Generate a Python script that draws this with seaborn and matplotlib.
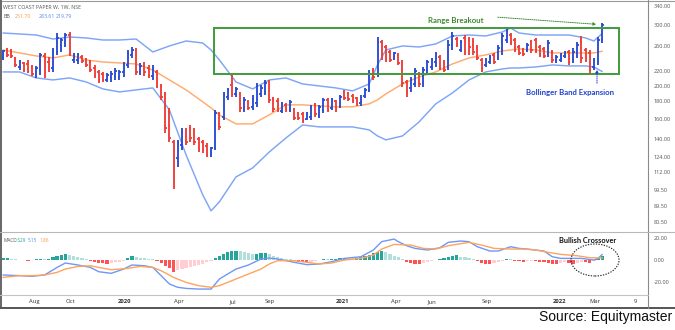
import numpy as np
import pandas as pd
import matplotlib
matplotlib.use("Agg")
import matplotlib.pyplot as plt
import matplotlib.dates as mdates
from matplotlib.patches import Rectangle, Ellipse, FancyArrowPatch
from matplotlib.lines import Line2D
from matplotlib.ticker import NullLocator
import seaborn as sns

sns.set_theme(style="white")
plt.rcParams["font.family"] = ["Open Sans", "DejaVu Sans"]

# ---- weekly OHLC, West Coast Paper (NSE), weeks starting 2019-06-10 ----
open_px = [240.7, 253.9, 248.9, 241.0, 226.6, 233.0, 231.2, 226.6, 214.8, 222.1,
           243.9, 234.3, 225.1, 250.5, 262.5, 266.0, 280.6, 237.5, 237.5, 242.3,
           239.1, 234.3, 225.1, 219.2, 216.3, 207.8, 210.6, 213.4, 212.0, 219.2,
           229.7, 245.6, 253.9, 219.2, 229.7, 225.1, 213.4, 219.2, 199.6, 188.0,
           167.9, 137.3, 123.4, 134.6, 148.8, 150.8, 147.8, 140.1, 137.3, 133.7,
           125.9, 131.9, 165.6, 162.3, 185.5, 201.0, 189.3, 189.3, 171.3, 179.5,
           173.6, 178.3, 189.3, 191.8, 205.0, 183.1, 180.7, 169.0, 175.9, 170.1,
           170.1, 166.7, 165.6, 160.1, 162.3, 175.9, 164.5, 170.1, 181.9, 172.4,
           180.7, 173.6, 191.8, 190.5, 186.8, 184.3, 178.3, 186.8, 194.4, 222.1,
           216.3, 267.8, 259.0, 250.5, 239.1, 245.6, 234.3, 205.0, 197.0, 202.3,
           216.3, 203.7, 222.1, 226.6, 234.3, 242.3, 234.3, 226.6, 262.5, 273.2,
           253.9, 275.1, 271.4, 262.5, 257.3, 237.5, 229.7, 234.3, 245.6, 240.7,
           253.9, 271.4, 280.6, 271.4, 259.0, 253.9, 253.9, 267.8, 271.4, 259.0,
           255.6, 247.2, 250.5, 235.9, 237.5, 243.9, 250.5, 237.5, 248.9, 271.4,
           253.9, 248.9, 226.6, 234.3, 271.4]
high_px = [253.9, 257.3, 255.6, 242.3, 237.5, 234.3, 237.5, 229.7, 228.2, 248.9,
           248.9, 242.3, 257.3, 284.4, 275.1, 284.4, 286.3, 248.9, 248.9, 245.6,
           240.7, 237.5, 229.7, 222.1, 219.2, 217.7, 220.7, 225.1, 222.1, 234.3,
           253.9, 259.0, 257.3, 232.8, 234.3, 229.7, 229.7, 222.1, 202.3, 191.8,
           172.4, 139.2, 139.2, 150.8, 150.8, 153.8, 150.8, 142.0, 139.2, 136.4,
           132.8, 170.1, 167.9, 191.8, 197.0, 214.8, 198.3, 191.8, 185.5, 181.9,
           188.0, 203.7, 201.0, 207.8, 207.8, 185.5, 184.3, 179.5, 178.3, 181.9,
           172.4, 167.9, 167.9, 167.9, 175.9, 178.3, 175.9, 184.3, 184.3, 184.3,
           181.9, 188.0, 194.4, 191.8, 189.3, 185.5, 188.0, 197.0, 222.1, 225.1,
           276.9, 271.4, 262.5, 253.9, 250.5, 248.9, 237.5, 207.8, 212.0, 225.1,
           219.2, 226.6, 237.5, 240.7, 250.5, 245.6, 237.5, 271.4, 286.3, 276.9,
           271.4, 280.6, 276.9, 275.1, 262.5, 240.7, 240.7, 245.6, 248.9, 262.5,
           284.4, 296.0, 284.4, 275.1, 262.5, 257.3, 266.0, 271.4, 275.1, 262.5,
           259.0, 271.4, 253.9, 245.6, 248.9, 252.2, 253.9, 257.3, 267.8, 278.8,
           257.3, 253.9, 240.7, 276.9, 304.0]
low_px = [237.5, 242.3, 240.7, 226.6, 222.1, 219.2, 217.7, 213.4, 210.6, 214.8,
          210.6, 219.2, 219.2, 245.6, 250.5, 259.0, 243.9, 232.8, 231.2, 232.8,
          226.6, 219.2, 210.6, 203.7, 205.0, 205.0, 205.0, 207.8, 207.8, 212.0,
          225.1, 240.7, 214.8, 214.8, 213.4, 210.6, 207.8, 197.0, 181.9, 145.8,
          137.3, 100.5, 116.3, 130.2, 134.6, 137.3, 134.6, 128.4, 127.6, 124.2,
          124.2, 130.2, 148.8, 159.1, 181.9, 185.5, 185.5, 167.9, 167.9, 170.1,
          170.1, 173.6, 185.5, 188.0, 178.3, 167.9, 167.9, 166.7, 167.9, 167.9,
          159.1, 159.1, 155.9, 159.1, 159.1, 162.3, 161.2, 166.7, 167.9, 170.1,
          167.9, 172.4, 181.9, 180.7, 178.3, 174.7, 174.7, 184.3, 191.8, 207.8,
          212.0, 237.5, 234.3, 234.3, 237.5, 229.7, 198.3, 185.5, 191.8, 198.3,
          198.3, 198.3, 217.7, 222.1, 226.6, 222.1, 219.2, 222.1, 253.9, 259.0,
          250.5, 245.6, 245.6, 245.6, 237.5, 219.2, 226.6, 231.2, 231.2, 237.5,
          245.6, 266.0, 262.5, 250.5, 245.6, 243.9, 250.5, 248.9, 248.9, 242.3,
          240.7, 242.3, 232.8, 232.8, 234.3, 240.7, 229.7, 232.8, 240.7, 232.8,
          234.3, 217.7, 222.1, 229.7, 266.0]
close_px = [252.2, 245.6, 243.9, 229.7, 234.3, 222.1, 220.7, 216.3, 225.1, 245.6,
            217.7, 223.6, 250.5, 275.1, 271.4, 280.6, 248.9, 245.6, 243.9, 235.9,
            229.7, 222.1, 213.4, 207.8, 207.8, 214.8, 216.3, 220.7, 219.2, 229.7,
            248.9, 253.9, 219.2, 228.2, 219.2, 213.4, 225.1, 199.6, 185.5, 150.8,
            141.0, 130.2, 136.4, 146.8, 137.3, 141.0, 137.3, 131.0, 130.2, 125.9,
            131.9, 166.7, 151.8, 188.0, 194.4, 189.3, 195.7, 172.4, 181.9, 172.4,
            184.3, 199.6, 197.0, 203.7, 181.9, 171.3, 170.1, 177.1, 170.1, 179.5,
            161.2, 161.2, 158.0, 166.7, 173.6, 165.6, 173.6, 181.9, 170.1, 181.9,
            171.3, 185.5, 184.3, 183.1, 180.7, 177.1, 185.5, 194.4, 216.3, 212.0,
            267.8, 245.6, 240.7, 237.5, 248.9, 232.8, 203.7, 191.8, 207.8, 220.7,
            202.3, 222.1, 234.3, 237.5, 247.2, 225.1, 222.1, 262.5, 278.8, 262.5,
            267.8, 248.9, 259.0, 250.5, 240.7, 225.1, 237.5, 242.3, 234.3, 257.3,
            278.8, 290.1, 267.8, 253.9, 248.9, 247.2, 262.5, 253.9, 253.9, 245.6,
            243.9, 266.0, 237.5, 242.3, 245.6, 248.9, 234.3, 250.5, 262.5, 240.7,
            240.7, 222.1, 237.5, 271.4, 300.0]

# ---- Bollinger Bands (20, 2), sampled at these week numbers ----
band_week = [0, 4, 8, 12, 16, 20, 24, 28, 32, 36, 40, 44, 48, 50, 52, 56, 60, 64,
             68, 72, 76, 80, 84, 88, 90, 92, 96, 100, 104, 108, 112, 116, 120,
             122, 124, 128, 132, 136, 140, 142, 144]
bb_upper = [284.4, 282.5, 280.6, 273.2, 276.9, 275.1, 271.4, 271.4, 273.2, 250.5,
            260.8, 269.6, 266.0, 253.9, 237.5, 205.0, 195.7, 207.8, 210.6, 202.3,
            199.6, 197.0, 193.1, 202.3, 229.7, 253.9, 260.8, 259.0, 264.3, 278.8,
            280.6, 278.8, 286.3, 294.0, 284.4, 280.6, 280.6, 280.6, 275.1, 269.6,
            283.61]
bb_basis = [253.9, 248.9, 243.9, 240.7, 245.6, 237.5, 234.3, 232.8, 231.2, 222.1,
            207.8, 194.4, 179.5, 172.4, 164.5, 154.9, 154.9, 164.5, 175.9, 175.9,
            174.7, 173.6, 173.6, 177.1, 181.9, 189.3, 202.3, 212.0, 219.2, 231.2,
            240.7, 245.6, 252.2, 253.9, 255.6, 253.9, 248.9, 248.9, 248.9, 248.9,
            251.70]
bb_lower = [219.2, 219.2, 210.6, 207.8, 210.6, 205.0, 195.7, 191.8, 194.4, 197.0,
            170.1, 125.9, 96.4, 86.6, 92.0, 108.7, 115.4, 128.4, 141.0, 153.8,
            151.8, 151.8, 151.8, 148.8, 142.9, 139.2, 142.9, 157.0, 177.1, 190.5,
            207.8, 219.2, 223.6, 225.1, 225.1, 226.6, 229.7, 228.2, 228.2, 226.6,
            219.79]

# ---- MACD (12, 26, 9) ----
macd_week = [0, 4, 7, 10, 13, 15, 18, 21, 23, 26, 29, 31, 34, 36, 38, 40, 42, 44,
             47, 50, 52, 54, 56, 59, 62, 64, 66, 70, 73, 76, 79, 82, 86, 89, 91,
             94, 95, 97, 99, 102, 105, 107, 110, 112, 114, 117, 119, 122, 124,
             126, 130, 132, 134, 137, 139, 142, 143, 144]
macd_line = [-13.6, -14.2, -14.8, -13.6, -6.7, -2.7, -4.5, -6.7, -10.6, -12.1,
             -8.2, -4.5, -5.2, -6.7, -14.2, -21.8, -24.8, -25.8, -26.4, -26.4,
             -17.3, -12.7, -8.2, -4.5, 0.9, 1.8, 0.9, -2.1, -4.2, -3.6, -1.5, 1.5,
             3.0, 9.1, 16.7, 19.1, 16.7, 13.0, 10.6, 9.1, 11.2, 16.1, 17.3, 16.7,
             12.1, 8.2, 8.2, 12.1, 10.6, 10.0, 8.2, 3.0, 1.5, 1.5, 1.5, 0.0, 1.5,
             5.15]
signal_week = [0, 4, 7, 10, 13, 15, 18, 21, 23, 26, 30, 33, 36, 38, 41, 44, 47,
               50, 52, 55, 58, 62, 64, 66, 70, 73, 76, 79, 82, 86, 89, 91, 94, 98,
               101, 104, 107, 112, 115, 118, 122, 125, 128, 131, 134, 138, 141, 144]
signal_line = [-15.8, -14.2, -14.2, -13.6, -11.2, -8.2, -5.8, -5.2, -6.7, -8.8,
               -7.6, -5.8, -6.7, -9.7, -15.8, -20.3, -23.3, -24.8, -23.3, -18.8,
               -14.2, -8.2, -3.6, -0.6, -0.6, -2.1, -3.6, -2.7, 0.0, 1.5, 4.5,
               10.0, 14.2, 13.6, 10.6, 10.0, 13.0, 16.1, 13.6, 10.6, 10.0, 10.0,
               9.1, 7.0, 5.2, 3.9, 2.1, 1.86]
macd_hist = [1.5, 2.0, 1.2, 0.8, 0.4, -0.3, -0.6, -0.4, 0.5, 0.8,
             0.6, 1.2, 2.5, 4.0, 5.0, 5.5, 4.5, 3.5, 2.8, 2.0,
             1.2, -0.5, -1.5, -2.5, -3.0, -3.2, -2.8, -2.2, -1.5, -0.8,
             1.5, 3.5, 2.8, 2.2, 1.8, 1.2, 0.6, -1.0, -2.5, -5.0,
             -7.5, -10.5, -9.5, -8.5, -7.5, -6.5, -5.5, -4.5, -3.2, -2.0,
             -0.8, 1.5, 3.5, 5.5, 7.0, 8.0, 8.5, 7.8, 7.0, 6.2,
             5.5, 5.8, 6.0, 6.3, 5.2, 4.0, 3.0, 2.0, 1.2, 0.5,
             -0.8, -1.5, -2.0, -2.2, -1.5, -0.8, 0.3, 0.8, 0.6, 1.0,
             1.2, 1.5, 1.8, 1.6, 1.5, 1.8, 2.5, 3.5, 5.0, 6.0,
             7.5, 8.0, 7.0, 5.5, 4.0, 2.5, 1.0, -1.5, -3.0, -3.8,
             -4.0, -3.0, -2.0, -1.0, 0.3, 0.6, 1.5, 3.0, 4.0, 4.2,
             3.2, 2.4, 1.5, 0.8, -0.8, -2.5, -3.5, -4.0, -3.0, -2.0,
             -0.8, 0.8, 0.6, -0.5, -1.0, -1.5, -1.2, -1.0, -1.3, -1.5,
             -2.0, -2.8, -3.5, -4.0, -3.0, -2.2, -3.0, -3.5, -2.5, -1.5,
             -2.0, -2.5, -1.2, 1.5, 3.29]

price_ticks = [340, 300, 260, 220, 200, 180, 160, 140, 124, 112, 99.5, 89.5, 80.5]
macd_ticks = [20, 0, -20]
date_ticks = ["2019-08-01", "2019-10-01", "2020-01-01", "2020-04-01", "2020-07-01",
              "2020-09-01", "2021-01-01", "2021-04-01", "2021-06-01", "2021-09-01",
              "2022-01-01", "2022-03-01", "2022-05-09"]
date_labels = ["Aug", "Oct", "2020", "Apr", "Jul", "Sep", "2021", "Apr", "Jun",
               "Sep", "2022", "Mar", "9"]

# ---- derived frames ----
weeks = pd.date_range("2019-06-10", periods=len(close_px), freq="W-MON")
wx = mdates.date2num(weeks.to_pydatetime())
ohlc = pd.DataFrame({"x": wx, "open": open_px, "high": high_px,
                     "low": low_px, "close": close_px, "hist": macd_hist})
bands = pd.DataFrame({"x": wx[band_week], "upper": bb_upper,
                      "basis": bb_basis, "lower": bb_lower})
macd_df = pd.DataFrame({"x": wx[macd_week], "macd": macd_line})
sig_df = pd.DataFrame({"x": wx[signal_week], "signal": signal_line})

UP, DOWN = "#2a4bd4", "#f03c37"
BAND_BLUE, BASIS_ORANGE = "#7fa5f6", "#ffab6e"
MACD_BLUE, SIG_ORANGE = "#6f97f6", "#ffa35e"

W, H = 675, 330
fig = plt.figure(figsize=(W / 100, H / 100), dpi=100)
fig.patch.set_facecolor("white")


def fx(px):
    return px / W


def fy(py):
    return 1 - py / H


ax_p = fig.add_axes([0, fy(232), fx(648), (232 - 1) / H])
ax_m = fig.add_axes([0, fy(295), fx(648), (295 - 232) / H])

xmin = mdates.date2num(pd.Timestamp("2019-06-05"))
xmax = mdates.date2num(pd.Timestamp("2022-05-30"))

# ---- price panel ----
ax_p.set_yscale("log")
sns.lineplot(data=bands, x="x", y="upper", ax=ax_p, color=BAND_BLUE, lw=1.05)
sns.lineplot(data=bands, x="x", y="lower", ax=ax_p, color=BAND_BLUE, lw=1.05)
sns.lineplot(data=bands, x="x", y="basis", ax=ax_p, color=BASIS_ORANGE, lw=1.05)

bar_cols = np.where(ohlc["close"] >= ohlc["open"], UP, DOWN)
tick = 2.6
ax_p.vlines(ohlc["x"], ohlc["low"], ohlc["high"], colors=bar_cols, lw=1.35, zorder=4)
ax_p.hlines(ohlc["open"], ohlc["x"] - tick, ohlc["x"], colors=bar_cols, lw=1.3, zorder=4)
ax_p.hlines(ohlc["close"], ohlc["x"], ohlc["x"] + tick, colors=bar_cols, lw=1.3, zorder=4)

# consolidation range box
range_top, range_bottom = 294.0, 216.0
range_start = mdates.date2num(pd.Timestamp("2020-05-30"))
range_end = mdates.date2num(pd.Timestamp("2022-04-11"))
ax_p.add_patch(Rectangle((range_start, range_bottom), range_end - range_start,
                         range_top - range_bottom, fill=False,
                         edgecolor="#3f9b3a", lw=1.4, zorder=5))

ax_p.set_xlim(xmin, xmax)
ax_p.set_ylim(75.2, 352.2)
ax_p.yaxis.tick_right()
ax_p.yaxis.set_minor_locator(NullLocator())
ax_p.set_yticks(price_ticks)
ax_p.set_yticklabels([f"{v:.2f}" for v in price_ticks])
ax_p.tick_params(axis="y", length=0, pad=4, labelsize=4, labelcolor="#555555")
ax_p.set_xticks([])
ax_p.set_xlabel("")
ax_p.set_ylabel("")
for s in ax_p.spines.values():
    s.set_visible(False)

# ---- MACD panel ----
prev = np.r_[macd_hist[0], macd_hist[:-1]]
h = np.asarray(macd_hist)
hist_cols = np.where(h >= 0, np.where(h >= prev, "#26a69a", "#b2dfdb"),
                     np.where(h < prev, "#ff5252", "#ffcdd2"))
ax_m.bar(ohlc["x"], ohlc["hist"], width=5.4, color=hist_cols, lw=0, zorder=2)
sns.lineplot(data=macd_df, x="x", y="macd", ax=ax_m, color=MACD_BLUE, lw=1.0)
sns.lineplot(data=sig_df, x="x", y="signal", ax=ax_m, color=SIG_ORANGE, lw=1.0)

ax_m.set_xlim(xmin, xmax)
ax_m.set_ylim(-31.8, 25.5)
ax_m.yaxis.tick_right()
ax_m.set_yticks(macd_ticks)
ax_m.set_yticklabels([f"{v:.2f}" for v in macd_ticks])
ax_m.tick_params(axis="y", length=0, pad=4, labelsize=4, labelcolor="#555555")
ax_m.set_xticks(mdates.date2num(pd.to_datetime(date_ticks)))
ax_m.set_xticklabels(date_labels)
ax_m.tick_params(axis="x", length=0, pad=3, labelsize=4.2, labelcolor="#333333")
for lab in ax_m.get_xticklabels():
    if lab.get_text().isdigit() and len(lab.get_text()) == 4:
        lab.set_fontweight("bold")
ax_m.set_xlabel("")
ax_m.set_ylabel("")
for s in ax_m.spines.values():
    s.set_visible(False)

# ---- frame lines ----
def fig_line(xs, ys, color, lw):
    fig.add_artist(Line2D([fx(v) for v in xs], [fy(v) for v in ys],
                          color=color, lw=lw, transform=fig.transFigure))


fig_line([0, W], [0.5, 0.5], "#9a9a9a", 0.8)
fig_line([0.7, 0.7], [0, 308], "#666666", 1.4)
fig_line([0, W], [308, 308], "#555555", 1.4)
fig_line([648, 648], [0, 308], "#8a8a8a", 0.8)
fig_line([0, W], [232, 232], "#b8b8b8", 0.8)
fig_line([0, 648], [295, 295], "#c4c4c4", 0.8)

# ---- legends ----
fig.text(fx(3), fy(7.5), "WEST COAST PAPER W, 1W, NSE", fontsize=3.8,
         color="#555555", va="center", ha="left")
fig.text(fx(3), fy(16.5), "BB", fontsize=3.8, color="#555555", va="center")
fig.text(fx(15), fy(16.5), f"{bb_basis[-1]:.2f}", fontsize=3.8, color="#f59a4c", va="center")
fig.text(fx(39), fy(16.5), f"{bb_upper[-1]:.2f}", fontsize=3.8, color="#5a86f0", va="center")
fig.text(fx(56), fy(16.5), f"{bb_lower[-1]:.2f}", fontsize=3.8, color="#5a86f0", va="center")

fig.text(fx(3), fy(240), "MACD", fontsize=3.4, color="#555555", va="center")
fig.text(fx(17), fy(240), f"{macd_hist[-1]:.2f}", fontsize=3.4, color="#26a69a", va="center")
fig.text(fx(28), fy(240), f"{macd_line[-1]:.2f}", fontsize=3.4, color="#5a86f0", va="center")
fig.text(fx(40), fy(240), f"{signal_line[-1]:.2f}", fontsize=3.4, color="#f59a4c", va="center")

# ---- annotations ----
fig.text(fx(456), fy(20), "Range Breakout", fontsize=5.6, fontweight="bold",
         family=["Lato", "DejaVu Sans"], color="#3a8a2c", ha="center", va="center")
fig.add_artist(FancyArrowPatch((fx(495), fy(17)), (fx(599), fy(24.5)),
                               transform=fig.transFigure, arrowstyle="-|>",
                               mutation_scale=4, color="#3a8a2c", lw=0.7,
                               linestyle=(0, (1, 1.2))))

fig.text(fx(570), fy(92), "Bollinger Band Expansion", fontsize=5.6, fontweight="bold",
         family=["Lato", "DejaVu Sans"], color="#1f3fcf", ha="center", va="center")
fig.add_artist(FancyArrowPatch((fx(597), fy(86)), (fx(597), fy(67)),
                               transform=fig.transFigure, arrowstyle="-|>",
                               mutation_scale=4, color="#1f3fcf", lw=0.7,
                               linestyle=(0, (1, 1.2))))

fig.text(fx(588), fy(240.5), "Bullish Crossover", fontsize=5.3, fontweight="bold",
         family=["Lato", "DejaVu Sans"], color="#111111", ha="center", va="center")
fig.add_artist(Ellipse((fx(595), fy(260)), 48 / W, 32 / H, transform=fig.transFigure,
                       fill=False, edgecolor="#222222", lw=0.8, linestyle=(0, (1.2, 1.2))))

fig.text(fx(672), fy(317), "Source: Equitymaster", fontsize=10,
         family=["Liberation Sans", "DejaVu Sans"], color="#111111",
         ha="right", va="center")

fig.savefig("out.png", dpi=100, facecolor="white")
